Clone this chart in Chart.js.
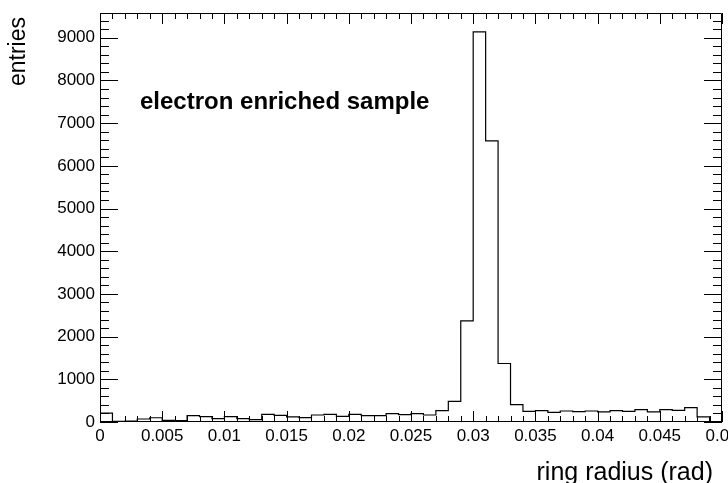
<!DOCTYPE html>
<html>
<head>
<meta charset="utf-8">
<script src="https://cdn.jsdelivr.net/npm/chart.js@4"></script>
<style>
  body { margin: 0; background: #fff; }
  #wrap { width: 728px; height: 483px; }
</style>
</head>
<body>
<div id="wrap"><canvas id="histCanvas"></canvas></div>
<script>
// histogram: 50 bins of 0.001 rad from 0 to 0.05
var binWidth = 0.001;
var binCounts = [
  210, 16, 24, 70, 100, 40, 31, 148, 125, 79,
  125, 79, 55, 180, 156, 118, 102, 164, 180, 134,
  180, 148, 148, 196, 172, 196, 164, 266, 485, 2370,
  9140, 6585, 1370, 408, 251, 266, 227, 258, 243, 258,
  235, 266, 251, 290, 235, 290, 274, 336, 118, 10
];
var xTickValues = [0, 0.005, 0.01, 0.015, 0.02, 0.025, 0.03, 0.035, 0.04, 0.045, 0.05];
var yTickValues = [0, 1000, 2000, 3000, 4000, 5000, 6000, 7000, 8000, 9000];
var yMax = 9580;

// step outline points at the bin edges
var stepPoints = binCounts.map(function (v, i) { return { x: i * binWidth, y: v }; });
stepPoints.push({ x: binCounts.length * binWidth, y: binCounts[binCounts.length - 1] });

var labelFont = { family: 'Liberation Sans, Arial, sans-serif', size: 17 };

// ROOT-like frame with inward ticks on all four sides, plus titles and label
var rootFrame = {
  id: 'rootFrame',
  afterDraw: function (chart) {
    var c = chart.ctx, a = chart.chartArea;
    var xs = chart.scales.x, ys = chart.scales.y;
    c.save();
    c.strokeStyle = '#000';
    c.lineWidth = 1;
    c.beginPath();
    c.rect(a.left + 0.5, a.top + 0.5, a.right - a.left - 1, a.bottom - a.top - 1);
    // x ticks every 0.001, major every 0.005
    for (var i = 0; i <= 50; i++) {
      var px = Math.round(xs.getPixelForValue(i * binWidth)) + 0.5;
      var len = (i % 5 === 0) ? 11 : 6;
      c.moveTo(px, a.bottom); c.lineTo(px, a.bottom - len);
      c.moveTo(px, a.top); c.lineTo(px, a.top + len);
    }
    // y ticks every 200, major every 1000
    for (var v = 0; v <= yMax; v += 200) {
      var py = Math.round(ys.getPixelForValue(v)) + 0.5;
      var ylen = (v % 1000 === 0) ? 18 : 9;
      c.moveTo(a.left, py); c.lineTo(a.left + ylen, py);
      c.moveTo(a.right, py); c.lineTo(a.right - ylen, py);
    }
    c.stroke();

    c.fillStyle = '#000';
    c.font = '25px Liberation Sans, Arial, sans-serif';
    c.textAlign = 'right';
    c.textBaseline = 'alphabetic';
    c.fillText('ring radius (rad)', a.right - 9, 480);
    c.save();
    c.font = '23px Liberation Sans, Arial, sans-serif';
    c.translate(25, a.top + 4);
    c.rotate(-Math.PI / 2);
    c.fillText('entries', 0, 0);
    c.restore();

    c.font = 'bold 24px Liberation Sans, Arial, sans-serif';
    c.textAlign = 'left';
    c.fillText('electron enriched sample', 140, 109);
    c.restore();
  }
};

var ctx = document.getElementById('histCanvas').getContext('2d');
var histChart = new Chart(ctx, {
  type: 'line',
  data: {
    datasets: [{
      data: stepPoints,
      stepped: 'before',
      borderColor: '#000',
      borderWidth: 1.2,
      pointRadius: 0,
      fill: false
    }]
  },
  options: {
    responsive: true,
    maintainAspectRatio: false,
    animation: false,
    layout: { padding: { top: 13, right: 6, left: 0, bottom: 0 } },
    plugins: { legend: { display: false }, tooltip: { enabled: false } },
    scales: {
      x: {
        type: 'linear',
        min: 0,
        max: 0.05,
        grid: { display: false, drawTicks: false },
        border: { display: false },
        afterBuildTicks: function (s) { s.ticks = xTickValues.map(function (v) { return { value: v }; }); },
        afterFit: function (s) { s.height = 61; s.paddingLeft = 0; s.paddingRight = 0; },
        ticks: {
          autoSkip: false,
          maxRotation: 0,
          padding: 4,
          color: '#000',
          font: labelFont,
          callback: function (v) { return String(+v.toFixed(3)); }
        }
      },
      y: {
        min: 0,
        max: yMax,
        grid: { display: false, drawTicks: false },
        border: { display: false },
        afterBuildTicks: function (s) { s.ticks = yTickValues.map(function (v) { return { value: v }; }); },
        afterFit: function (s) { s.width = 100; s.paddingTop = 0; s.paddingBottom = 0; },
        ticks: {
          autoSkip: false,
          padding: 5,
          color: '#000',
          font: labelFont,
          callback: function (v) { return String(v); }
        }
      }
    }
  },
  plugins: [rootFrame]
});
</script>
</body>
</html>
